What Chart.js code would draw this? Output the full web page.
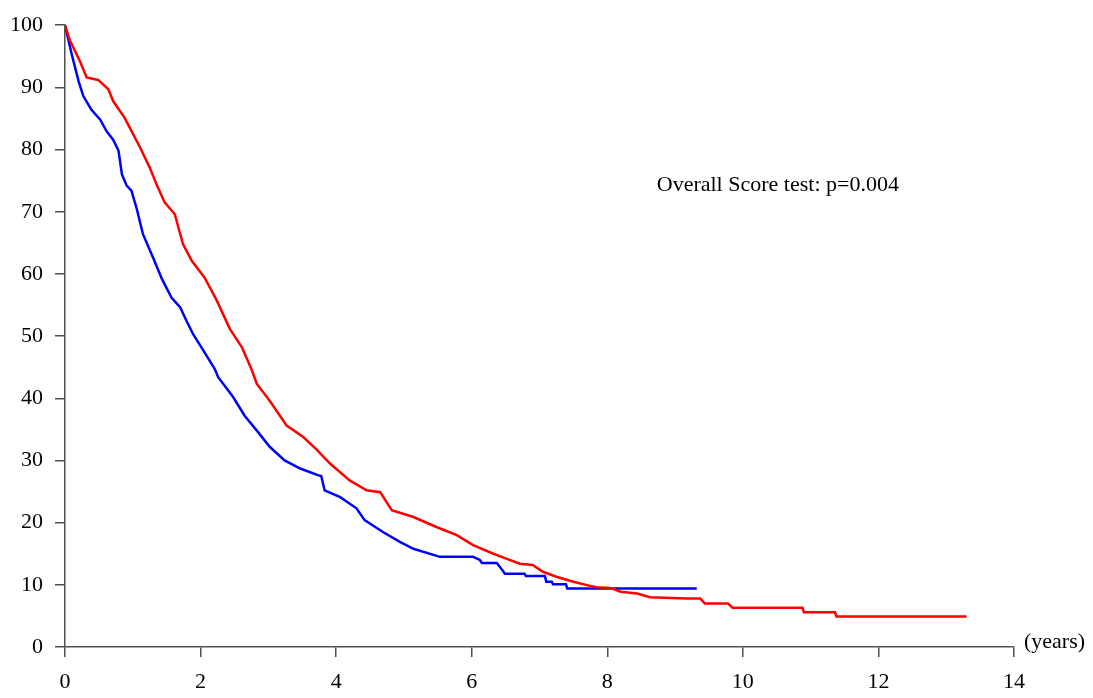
<!DOCTYPE html>
<html>
<head>
<meta charset="utf-8">
<script src="https://cdn.jsdelivr.net/npm/chart.js@4.4.1/dist/chart.umd.min.js"></script>
<style>
  html, body { margin: 0; padding: 0; background: #fff; }
  #wrap { width: 1093px; height: 698px; }
</style>
</head>
<body>
<div id="wrap"><canvas id="km" width="1093" height="698"></canvas></div>
<script>
// survival curves (years, % surviving)
const redTimes = [0, 0.07, 0.22, 0.32, 0.49, 0.64, 0.71, 0.88, 0.98, 1.11, 1.25, 1.35, 1.47, 1.62, 1.74, 1.87, 2.06, 2.24, 2.43, 2.61, 2.75, 2.83, 3.02, 3.27, 3.51, 3.71, 3.91, 4.2, 4.45, 4.65, 4.82, 5.14, 5.48, 5.78, 6.02, 6.32, 6.51, 6.71, 6.9, 7.05, 7.25, 7.5, 7.7, 7.84, 8.04, 8.2, 8.44, 8.63, 9.17, 9.37, 9.44, 9.78, 9.85, 10.88, 10.9, 11.36, 11.38, 13.3];
const redSurv  = [100, 97.6, 94.2, 91.6, 91.2, 89.7, 87.8, 85.1, 83.0, 80.3, 77.1, 74.4, 71.5, 69.6, 64.8, 62.1, 59.4, 55.7, 51.2, 48.2, 44.7, 42.3, 39.6, 35.6, 33.8, 31.8, 29.5, 26.8, 25.2, 24.9, 22.0, 20.9, 19.3, 18.0, 16.4, 15.0, 14.2, 13.4, 13.2, 12.1, 11.3, 10.5, 9.95, 9.6, 9.5, 8.9, 8.6, 8.0, 7.8, 7.8, 7.0, 7.0, 6.3, 6.3, 5.6, 5.6, 4.9, 4.9];

const blueTimes = [0, 0.10, 0.2, 0.27, 0.39, 0.52, 0.61, 0.71, 0.79, 0.84, 0.91, 0.98, 1.06, 1.15, 1.30, 1.43, 1.57, 1.70, 1.79, 1.89, 2.04, 2.21, 2.26, 2.48, 2.65, 2.83, 3.02, 3.24, 3.47, 3.74, 3.78, 3.83, 4.06, 4.3, 4.42, 4.69, 4.94, 5.14, 5.53, 6.02, 6.12, 6.15, 6.37, 6.45, 6.49, 6.78, 6.8, 7.08, 7.1, 7.18, 7.2, 7.39, 7.41, 9.32];
const blueSurv  = [100, 95.3, 91.0, 88.6, 86.4, 84.8, 83.0, 81.6, 79.8, 76.0, 74.2, 73.4, 70.4, 66.4, 62.6, 59.2, 56.2, 54.6, 52.5, 50.3, 47.7, 44.7, 43.4, 40.2, 37.2, 34.8, 32.2, 30.0, 28.7, 27.6, 27.5, 25.2, 24.1, 22.3, 20.4, 18.5, 16.9, 15.8, 14.5, 14.5, 14.0, 13.5, 13.5, 12.4, 11.8, 11.8, 11.4, 11.4, 10.5, 10.5, 10.1, 10.1, 9.4, 9.4];

const xMax = 14, xStep = 2;
const yMax = 100, yStep = 10;
const testNote = 'Overall Score test: p=0.004';
const unitLabel = '(years)';

function pts(ts, vs) {
  return ts.map((t, i) => ({ x: t, y: vs[i] }));
}

const axisColor = '#505050';
const serif = "'Liberation Serif', 'Times New Roman', serif";

// extra texts: the test result and the unit at the end of the x axis
const notes = {
  id: 'notes',
  afterDraw(chart) {
    const c = chart.ctx;
    const xs = chart.scales.x, ys = chart.scales.y;
    c.save();
    c.fillStyle = '#000';
    c.font = '22px ' + serif;
    c.textBaseline = 'middle';
    c.textAlign = 'left';
    c.fillText(testNote, xs.getPixelForValue(8.73), ys.getPixelForValue(74.3));
    c.fillText(unitLabel, xs.right + 10, ys.getPixelForValue(0) - 5);
    c.restore();
  }
};

new Chart(document.getElementById('km'), {
  type: 'scatter',
  data: {
    datasets: [{
      data: pts(redTimes, redSurv),
      showLine: true,
      borderColor: '#ff0000',
      borderWidth: 2.5,
      pointRadius: 0,
      tension: 0
    }, {
      data: pts(blueTimes, blueSurv),
      showLine: true,
      borderColor: '#0000ff',
      borderWidth: 2.5,
      pointRadius: 0,
      tension: 0
    }]
  },
  options: {
    responsive: false,
    animation: false,
    layout: { padding: { top: 24, right: 79, left: 0, bottom: 0 } },
    plugins: {
      legend: { display: false },
      tooltip: { enabled: false }
    },
    scales: {
      x: {
        type: 'linear',
        min: 0,
        max: xMax,
        afterFit(s) { s.height = 51; },
        ticks: {
          stepSize: xStep,
          color: '#000',
          padding: 12,
          maxRotation: 0,
          font: { family: serif, size: 22 }
        },
        grid: { drawOnChartArea: false, drawTicks: true, tickLength: 10, color: axisColor, lineWidth: 1.5 },
        border: { display: true, color: axisColor, width: 1.5 }
      },
      y: {
        min: 0,
        max: yMax,
        afterFit(s) { s.width = 65; },
        ticks: {
          stepSize: yStep,
          color: '#000',
          padding: 12,
          font: { family: serif, size: 22 }
        },
        grid: { drawOnChartArea: false, drawTicks: true, tickLength: 10, color: axisColor, lineWidth: 1.5 },
        border: { display: true, color: axisColor, width: 1.5 }
      }
    }
  },
  plugins: [notes]
});
</script>
</body>
</html>
